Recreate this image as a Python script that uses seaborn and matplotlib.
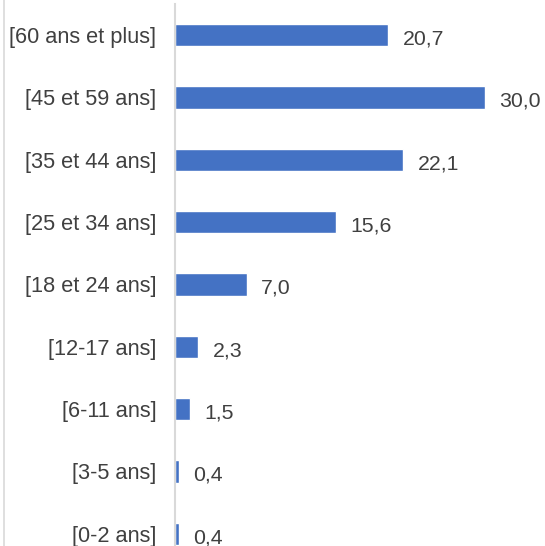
import matplotlib
matplotlib.use("Agg")
import matplotlib.pyplot as plt
from matplotlib.lines import Line2D
import seaborn as sns
import pandas as pd

categories = ["[60 ans et plus]", "[45 et 59 ans]", "[35 et 44 ans]", "[25 et 34 ans]",
              "[18 et 24 ans]", "[12-17 ans]", "[6-11 ans]", "[3-5 ans]", "[0-2 ans]"]
values = [20.7, 30.0, 22.1, 15.6, 7.0, 2.3, 1.5, 0.4, 0.4]
value_labels = ["20,7", "30,0", "22,1", "15,6", "7,0", "2,3", "1,5", "0,4", "0,4"]

df = pd.DataFrame({"cat": categories, "val": values})

sns.set_style("white")
plt.rcParams["font.family"] = ["Liberation Sans", "DejaVu Sans"]

fig = plt.figure(figsize=(5.45, 5.46), dpi=100)
ax = fig.add_axes([174.5/545, -19/546, 370/545, 561/546])
sns.barplot(data=df, x="val", y="cat", orient="h", color="#4472C4", width=0.36,
            saturation=1, ax=ax, order=categories)
ax.set_xlim(0, 35.8)
ax.set_ylim(len(categories) - 0.5, -0.5)
for s in ["top", "right", "bottom"]:
    ax.spines[s].set_visible(False)
ax.spines["left"].set_color("#d9d9d9")
ax.spines["left"].set_linewidth(1.5)
ax.set_xticks([])
ax.set_xlabel("")
ax.set_ylabel("")
ax.tick_params(axis="y", length=0, pad=13, labelsize=15.7, labelcolor="#404040")
for i, (v, lab) in enumerate(zip(values, value_labels)):
    ax.text(v + 1.4, i + 0.03, lab, va="center_baseline", ha="left", fontsize=15.3, color="#404040")

fig.add_artist(Line2D([3.5/545, 3.5/545], [0, 1], transform=fig.transFigure,
                      color="#d9d9d9", linewidth=1.2))
fig.savefig("out.png", dpi=100)
